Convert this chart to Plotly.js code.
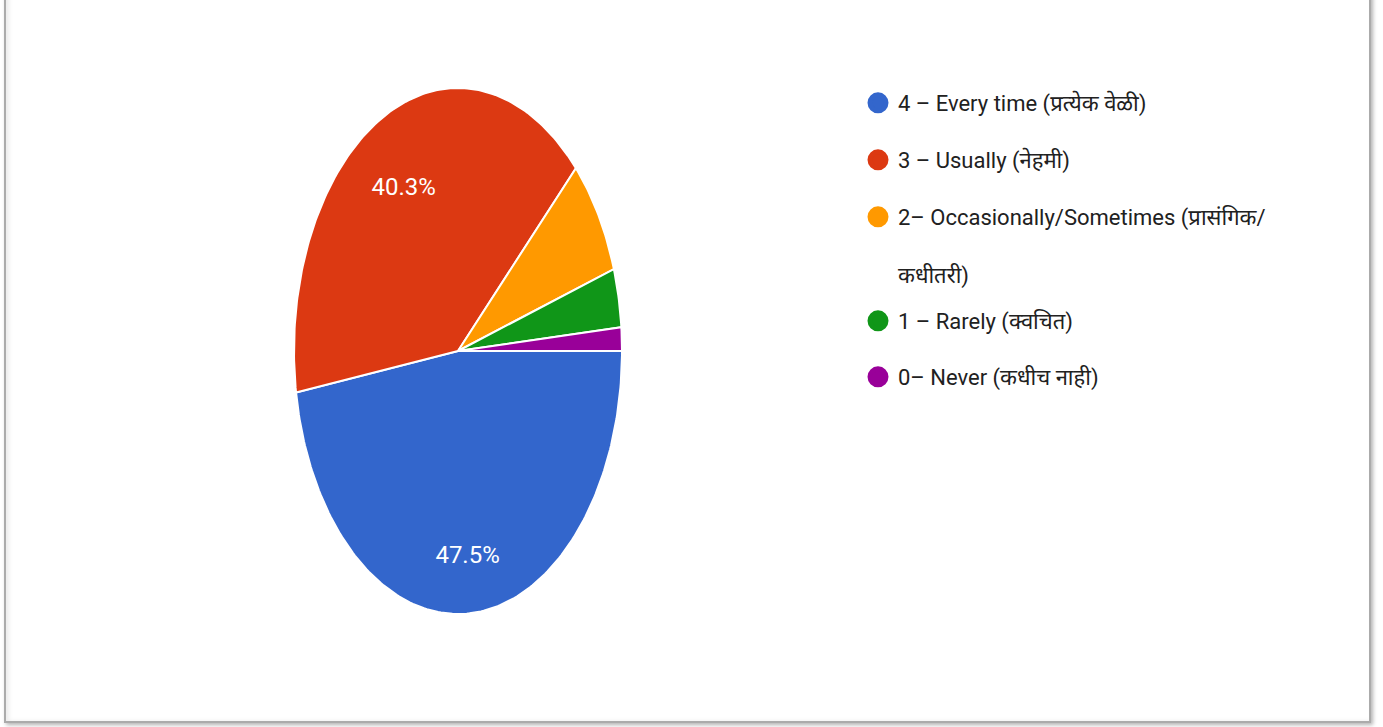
<!DOCTYPE html>
<html>
<head>
<meta charset="utf-8">
<script src="https://cdn.plot.ly/plotly-3.0.1.min.js"></script>
<style>
html,body{margin:0;padding:0;background:#fff;overflow:hidden;}
#frame{position:absolute;left:4px;top:-6px;width:1367px;height:729px;border:2px solid #ababab;box-sizing:border-box;
  box-shadow:2px 2px 4px rgba(0,0,0,0.30), inset 3px 0 4px rgba(0,0,0,0.08);}
#chart{position:absolute;left:0;top:0;width:1383px;height:727px;}
</style>
</head>
<body>
<div id="frame"></div>
<div id="chart"></div>
<script>
// ---- data ----
const categories = [
  '4 – Every time (प्रत्येक वेळी)',
  '3 – Usually (नेहमी)',
  '2– Occasionally/Sometimes (प्रासंगिक/<br><br>कधीतरी)',
  '1 – Rarely (क्वचित)',
  '0– Never (कधीच नाही)'
];
const responses = [66, 56, 10, 5, 2];
const sliceColors = ['#3366cc', '#dc3912', '#ff9900', '#109618', '#990099'];

// ---- layout geometry (pixels) ----
const W = 1383, H = 727;
const CX = 458, CY = 351, RX = 164, RY = 263;
const FONT = 'Roboto, "Noto Sans Devanagari", "Noto Sans", "Lohit Devanagari", sans-serif';

const total = responses.reduce((a, b) => a + b, 0);
const traces = [];

// slices, clockwise from 3 o'clock
let start = 0;
responses.forEach((v, i) => {
  const frac = v / total;
  const a0 = -start * 2 * Math.PI, a1 = -(start + frac) * 2 * Math.PI;
  const n = Math.max(6, Math.ceil(frac * 360));
  const xs = [0], ys = [0];
  for (let k = 0; k <= n; k++) {
    const a = a0 + (a1 - a0) * k / n;
    xs.push(Math.cos(a)); ys.push(Math.sin(a));
  }
  xs.push(0); ys.push(0);
  traces.push({
    type: 'scatter', mode: 'lines', x: xs, y: ys, fill: 'toself',
    fillcolor: sliceColors[i], line: {color: '#ffffff', width: 2},
    showlegend: false, hoveron: 'fills',
    text: categories[i].replace(/<br>/g, ' ') + ': ' + v + ' (' + (frac * 100).toFixed(1) + '%)',
    hoverinfo: 'text'
  });
  start += frac;
});

// percentage labels for large slices
const lx = [], ly = [], lt = [];
start = 0;
responses.forEach((v) => {
  const frac = v / total;
  if (frac >= 0.1) {
    const am = -(start + frac / 2) * 2 * Math.PI;
    lx.push(0.74 * Math.cos(am)); ly.push(0.74 * Math.sin(am));
    lt.push((frac * 100).toFixed(1) + '%');
  }
  start += frac;
});
traces.push({
  type: 'scatter', mode: 'text', x: lx, y: ly, text: lt, textposition: 'bottom center',
  textfont: {family: 'Roboto, sans-serif', size: 24, color: '#ffffff'},
  showlegend: false, hoverinfo: 'skip'
});

// legend entries (circle markers), one legend box per entry
const legendY = [103, 160, 216, 321, 377];
const layout = {
  width: W, height: H,
  margin: {l: 0, r: 0, t: 0, b: 0},
  paper_bgcolor: 'rgba(0,0,0,0)', plot_bgcolor: 'rgba(0,0,0,0)',
  xaxis: {visible: false, range: [-CX / RX, (W - CX) / RX], autorange: false, fixedrange: true},
  yaxis: {visible: false, range: [-(H - CY) / RY, CY / RY], autorange: false, fixedrange: true},
  hovermode: 'closest',
  showlegend: true
};
categories.forEach((c, i) => {
  const key = i === 0 ? 'legend' : 'legend' + (i + 1);
  traces.push({
    type: 'scatter', mode: 'markers', x: [null], y: [null], name: c,
    marker: {symbol: 'circle', size: 16, color: sliceColors[i], line: {color: sliceColors[i], width: 5}},
    legend: key, hoverinfo: 'skip'
  });
  const multi = c.indexOf('<br>') >= 0;
  layout[key] = {
    x: 858 / W, xanchor: 'left',
    y: multi ? 1 - (legendY[i] - 20) / H : 1 - legendY[i] / H,
    yanchor: multi ? 'top' : 'middle',
    valign: 'top',
    bgcolor: 'rgba(0,0,0,0)', borderwidth: 0,
    font: {family: FONT, size: 22, color: '#212121'},
    itemclick: false, itemdoubleclick: false
  };
});

Plotly.newPlot('chart', traces, layout, {displayModeBar: false, staticPlot: false});
</script>
</body>
</html>
